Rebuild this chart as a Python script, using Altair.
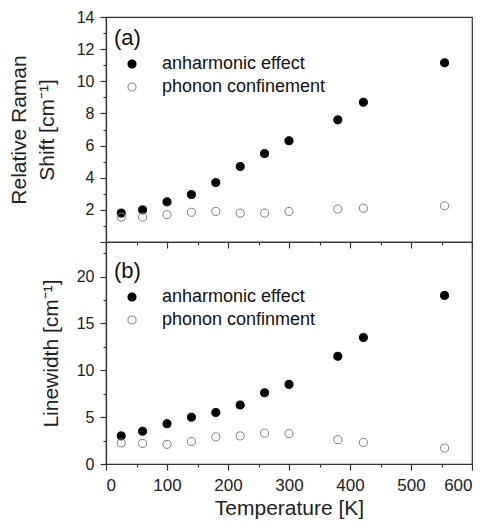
import altair as alt
import pandas as pd

temps = [25, 60, 100, 140, 180, 220, 260, 300, 380, 422, 555]
shift_anh = [1.8, 2.0, 2.5, 2.95, 3.7, 4.7, 5.5, 6.3, 7.6, 8.7, 11.15]
shift_pc = [1.55, 1.55, 1.7, 1.85, 1.9, 1.8, 1.8, 1.9, 2.05, 2.1, 2.25]
width_anh = [3.0, 3.5, 4.3, 5.0, 5.5, 6.3, 7.6, 8.5, 11.5, 13.5, 18.0]
width_pc = [2.25, 2.2, 2.1, 2.4, 2.9, 3.0, 3.3, 3.25, 2.6, 2.3, 1.7]

top_labels = ["anharmonic effect", "phonon confinement"]
bot_labels = ["anharmonic effect", "phonon confinment"]

x_ticks = list(range(0, 601, 50))
top_y_ticks = list(range(0, 15))
bot_y_ticks = [i * 2.5 for i in range(0, 10)]

FONT = "Liberation Sans"

top_df = pd.DataFrame({
    "T": temps * 2,
    "v": shift_anh + shift_pc,
    "s": [top_labels[0]] * len(temps) + [top_labels[1]] * len(temps),
})
bot_df = pd.DataFrame({
    "T": temps * 2,
    "v": width_anh + width_pc,
    "s": [bot_labels[0]] * len(temps) + [bot_labels[1]] * len(temps),
})

W = 366


def make_legend(y):
    return alt.Legend(
        orient="none", legendX=17, legendY=y, title=None,
        labelFontSize=18, labelFont=FONT, labelColor="#111", labelLimit=400,
        symbolSize=65, symbolStrokeWidth=1, rowPadding=5,
        labelOffset=21, padding=0, symbolType="circle",
    )


def panel(df, labels, ydomain, yticks, major_test, label_expr, ytitle,
          height, tag, tag_y, legend_y, bottom, tpad):
    leg = make_legend(legend_y)
    xaxis = alt.Axis(
        values=x_ticks,
        labels=bottom,
        labelExpr="datum.value % 100 === 0 ? datum.label : ''",
        title="Temperature [K]" if bottom else None,
        tickSize={"condition": {"test": "datum.value % 100 === 0", "value": 6}, "value": 3},
        labelFontSize=17, labelPadding=7, titleFontSize=21, titlePadding=4,
        titleFontWeight="normal", grid=False,
    )
    yaxis = alt.Axis(
        values=yticks,
        labelExpr=label_expr,
        title=ytitle,
        tickSize={"condition": {"test": major_test, "value": 6}, "value": 3},
        labelFontSize=16, labelPadding=6, titleFontSize=21, titlePadding=tpad,
        titleLineHeight=28, titleFontWeight="normal", grid=False,
    )
    pts = alt.Chart(df).mark_point(filled=False, size=65, strokeWidth=1, opacity=1).encode(
        x=alt.X("T:Q", scale=alt.Scale(domain=[0, 600], nice=False), axis=xaxis),
        y=alt.Y("v:Q", scale=alt.Scale(domain=ydomain, nice=False, zero=False), axis=yaxis),
        color=alt.Color("s:N", scale=alt.Scale(domain=labels, range=["#000000", "#808080"]), legend=leg),
        fill=alt.Fill("s:N", scale=alt.Scale(domain=labels, range=["#000000", "transparent"]), legend=leg),
    )
    txt = alt.Chart(alt.Data(values=[{"t": tag}])).mark_text(
        align="left", baseline="middle", fontSize=22, font=FONT, color="#111"
    ).encode(text="t:N", x=alt.value(8), y=alt.value(tag_y))
    return alt.layer(pts, txt).properties(width=W, height=height)


top = panel(top_df, top_labels, [0, 14], top_y_ticks,
            "datum.value % 2 === 0",
            "datum.value % 2 === 0 && datum.value > 0 ? datum.label : ''",
            ["Relative Raman", "Shift [cm⁻¹]"], 225, "(a)", 21, 38, False, 19)
bot = panel(bot_df, bot_labels, [0, 23.7], bot_y_ticks,
            "datum.value % 5 === 0",
            "datum.value % 5 === 0 ? datum.label : ''",
            "Linewidth [cm⁻¹]", 222, "(b)", 29, 46, True, 15)

chart = alt.vconcat(top, bot, spacing=0, bounds="flush").resolve_scale(
    color="independent", fill="independent", x="shared"
).resolve_legend(color="independent", fill="independent").properties(
    padding={"left": 7, "top": 8, "right": 5, "bottom": 2},
    background="white",
).configure_view(stroke="#333", strokeWidth=1.2).configure_axis(
    domainColor="#333", tickColor="#333", labelColor="#222", titleColor="#222",
    labelFont=FONT, titleFont=FONT, titleFontWeight="normal", domainWidth=1.2,
    tickWidth=1.2,
)

chart.save("out.html", embed_options={"renderer": "svg", "actions": False})
